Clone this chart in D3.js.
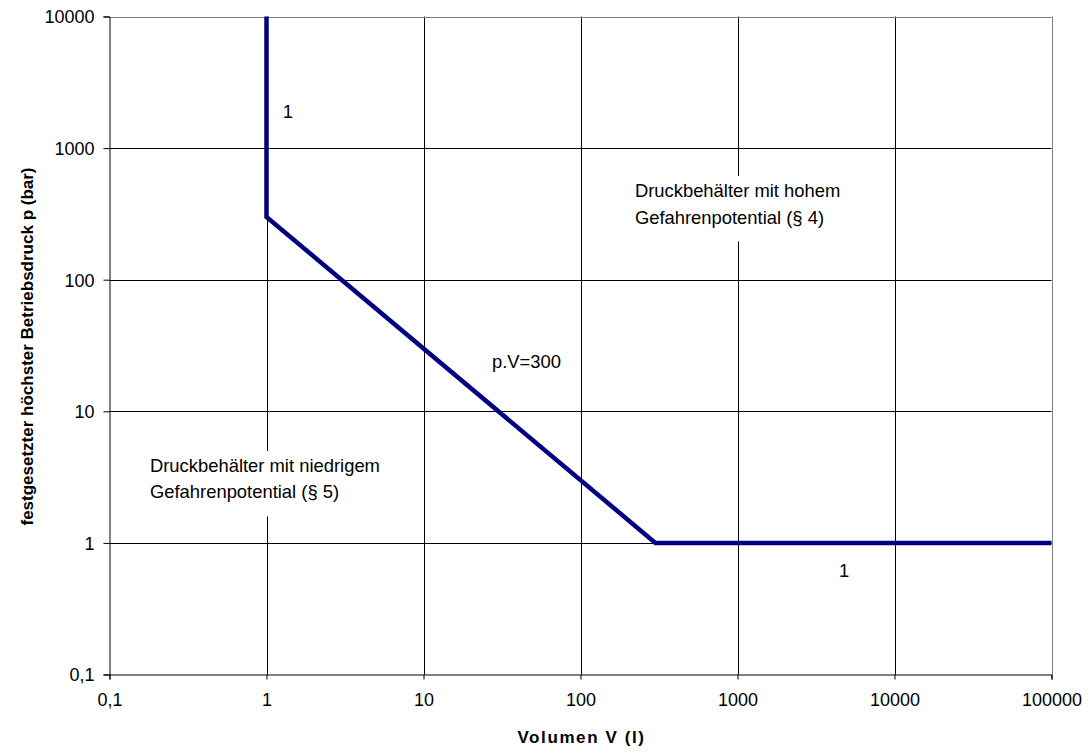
<!DOCTYPE html>
<html>
<head>
<meta charset="utf-8">
<script src="https://cdn.jsdelivr.net/npm/d3@7"></script>
<style>
  html, body { margin: 0; padding: 0; background: #fff; }
  svg { display: block; font-family: Arial, "Liberation Sans", sans-serif; }
</style>
</head>
<body>
<svg id="chart" width="1090" height="754"></svg>
<script>
// ---- data ----
const volumes   = [1, 1, 300, 100000];      // V (l)
const pressures = [10000, 300, 1, 1];       // p (bar)
const xTickValues = [0.1, 1, 10, 100, 1000, 10000, 100000];
const xTickLabels = ["0,1", "1", "10", "100", "1000", "10000", "100000"];
const yTickValues = [0.1, 1, 10, 100, 1000, 10000];
const yTickLabels = ["0,1", "1", "10", "100", "1000", "10000"];
const xTitle = "Volumen V (l)";
const yTitle = "festgesetzter höchster Betriebsdruck p (bar)";
const annotations = [
  { lines: ["1"], V: 1.27, p: 1694, box: false },
  { lines: ["p.V=300"], V: 27.3, p: 21.3, box: false },
  { lines: ["1"], V: 4430, p: 0.551, box: false },
  { lines: ["Druckbehälter mit hohem", "Gefahrenpotential (§ 4)"], V: 222, p: 425, box: true },
  { lines: ["Druckbehälter mit niedrigem", "Gefahrenpotential (§ 5)"], V: 0.181, p: 3.46, box: true }
];

// ---- layout ----
const svg = d3.select("#chart");
const L = 109.5, R = 1051.5, T = 16.5, B = 674.5;

const x = d3.scaleLog().domain([0.1, 100000]).range([L, R]);
const y = d3.scaleLog().domain([0.1, 10000]).range([B, T]);

// gridlines
const grid = svg.append("g");
grid.selectAll("line.v").data(xTickValues.slice(1)).join("line")
  .attr("x1", d => Math.round(x(d)) + 0.5).attr("x2", d => Math.round(x(d)) + 0.5)
  .attr("y1", T).attr("y2", B)
  .attr("stroke", (d, i, n) => i === n.length - 1 ? "#808080" : "#000").attr("stroke-width", 1);
grid.selectAll("line.h").data(yTickValues.slice(1)).join("line")
  .attr("y1", d => Math.round(y(d)) + 0.5).attr("y2", d => Math.round(y(d)) + 0.5)
  .attr("x1", L).attr("x2", R)
  .attr("stroke", (d, i, n) => i === n.length - 1 ? "#808080" : "#000").attr("stroke-width", 1);

// annotation layer (white boxes interrupt gridlines)
const ann = svg.append("g").attr("font-size", 18.4).attr("fill", "#000");

// axes
const xAxis = d3.axisBottom(x).tickValues(xTickValues)
  .tickFormat((d, i) => xTickLabels[i]).tickSize(5).tickPadding(14);
const yAxis = d3.axisLeft(y).tickValues(yTickValues)
  .tickFormat((d, i) => yTickLabels[i]).tickSize(6).tickPadding(9);

const gx = svg.append("g").attr("transform", `translate(0,${B})`).call(xAxis);
const gy = svg.append("g").attr("transform", `translate(${L},0)`).call(yAxis);
[gx, gy].forEach(g => {
  g.select(".domain").attr("stroke", "#000");
  g.selectAll(".tick line").attr("stroke", "#000");
  g.selectAll(".tick text").attr("font-size", 18).attr("font-family", "Arial, 'Liberation Sans', sans-serif").attr("fill", "#000");
});
gy.selectAll(".tick text").attr("dy", "0.36em");

// boundary line
const line = d3.line().x(d => x(d[0])).y(d => y(d[1]));
svg.append("path")
  .datum(volumes.map((v, i) => [v, pressures[i]]))
  .attr("d", line)
  .attr("fill", "none")
  .attr("stroke", "#000080")
  .attr("stroke-width", 4.5)
  .attr("stroke-linejoin", "miter");

// annotations
annotations.forEach(a => {
  const g = ann.append("g");
  const t = g.append("text").attr("x", x(a.V)).attr("y", y(a.p));
  a.lines.forEach((s, i) => {
    t.append("tspan").attr("x", x(a.V)).attr("dy", i === 0 ? 0 : 26.5).text(s);
  });
  if (a.box) {
    const bb = t.node().getBBox();
    g.insert("rect", "text")
      .attr("x", bb.x - 10).attr("y", bb.y - 4)
      .attr("width", bb.width + 20).attr("height", bb.height + 18)
      .attr("fill", "#fff");
  }
});

// axis titles
svg.append("text")
  .attr("x", (L + R) / 2 + 1).attr("y", 743)
  .attr("text-anchor", "middle")
  .attr("font-size", 17).attr("font-weight", "bold").attr("letter-spacing", 1.6)
  .text(xTitle);
svg.append("text")
  .attr("transform", `translate(33,${(T + B) / 2 + 1}) rotate(-90)`)
  .attr("text-anchor", "middle")
  .attr("font-size", 17).attr("font-weight", "bold")
  .text(yTitle);
</script>
</body>
</html>
